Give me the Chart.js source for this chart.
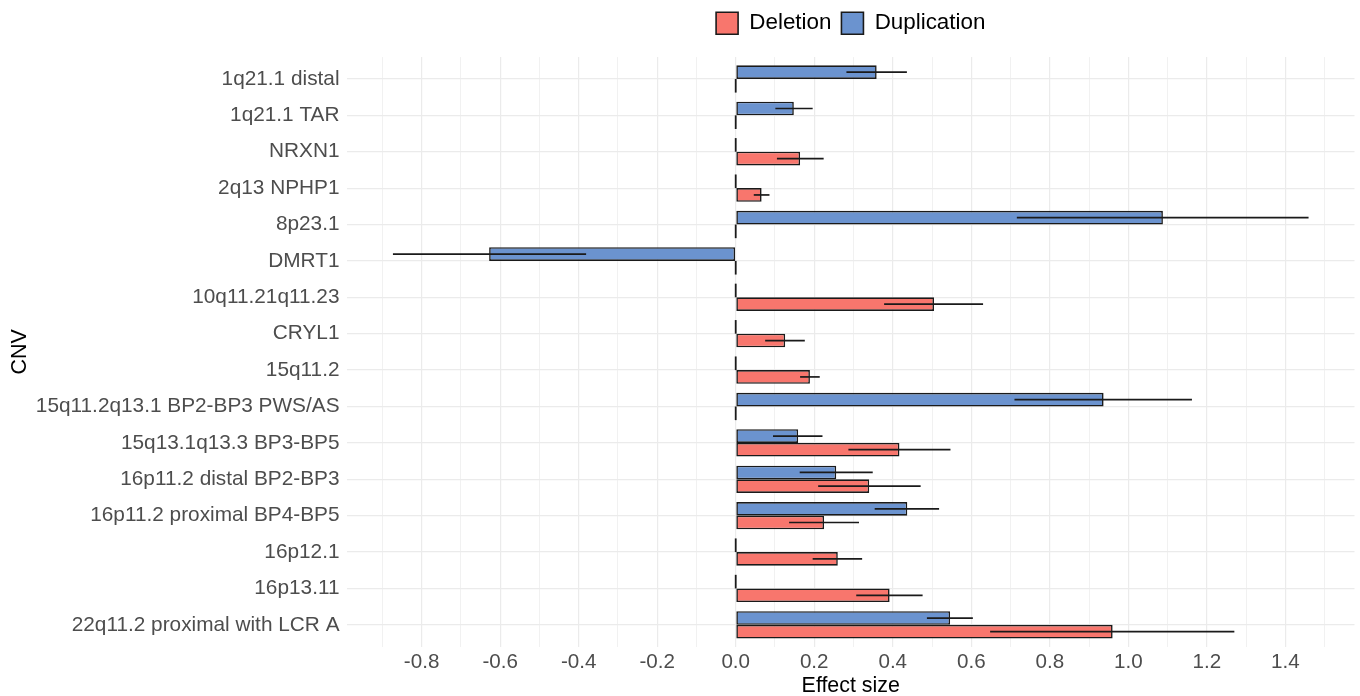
<!DOCTYPE html>
<html>
<head>
<meta charset="utf-8">
<title>CNV effect sizes</title>
<script src="https://cdn.jsdelivr.net/npm/chart.js@4/dist/chart.umd.min.js"></script>
<style>
  html, body { margin: 0; padding: 0; background: #ffffff; }
  #wrap { position: relative; width: 1360px; height: 696px; }
</style>
</head>
<body>
<div id="wrap"><canvas id="chart"></canvas></div>
<script>
// Copy number variants, top to bottom
const cnvs = [
  '1q21.1 distal', '1q21.1 TAR', 'NRXN1', '2q13 NPHP1', '8p23.1', 'DMRT1',
  '10q11.21q11.23', 'CRYL1', '15q11.2', '15q11.2q13.1 BP2-BP3 PWS/AS',
  '15q13.1q13.3 BP3-BP5', '16p11.2 distal BP2-BP3', '16p11.2 proximal BP4-BP5',
  '16p12.1', '16p13.11', '22q11.2 proximal with LCR A'
];

// Effect sizes (0 = not estimated) with lower / upper interval bounds
const deletionEffect = [0, 0, 0.164, 0.066, 0, 0, 0.505, 0.126, 0.189, 0, 0.417, 0.340, 0.225, 0.260, 0.392, 0.960];
const deletionLow    = [null, null, 0.105, 0.046, null, null, 0.378, 0.075, 0.164, null, 0.287, 0.210, 0.136, 0.196, 0.307, 0.648];
const deletionHigh   = [null, null, 0.224, 0.086, null, null, 0.630, 0.176, 0.214, null, 0.547, 0.471, 0.314, 0.322, 0.476, 1.270];

const duplicationEffect = [0.359, 0.148, 0, 0, 1.088, -0.628, 0, 0, 0, 0.937, 0.159, 0.256, 0.437, 0, 0, 0.546];
const duplicationLow    = [0.282, 0.101, null, null, 0.716, -0.873, null, null, null, 0.710, 0.095, 0.163, 0.354, null, null, 0.487];
const duplicationHigh   = [0.436, 0.196, null, null, 1.459, -0.381, null, null, null, 1.162, 0.221, 0.349, 0.518, null, null, 0.604];

// Effect-size ticks in tenths; only even tenths carry a label
const xTickTenths = [-9, -8, -7, -6, -5, -4, -3, -2, -1, 0, 1, 2, 3, 4, 5, 6, 7, 8, 9, 10, 11, 12, 13, 14, 15];

const FONT = '"Liberation Sans", Arial, Helvetica, sans-serif';
const GRID = '#EBEBEB';
const OUTLINE = '#1a1a1a';

Chart.defaults.font.family = FONT;
Chart.defaults.color = '#4D4D4D';

const toPoints = (vals) => vals.map((v, i) => ({ x: v, y: i }));

// Horizontal interval lines through the middle of each bar
const intervalLines = {
  id: 'intervalLines',
  afterDatasetsDraw(chart) {
    const { ctx } = chart;
    const xs = chart.scales.x;
    chart.data.datasets.forEach((ds, di) => {
      const meta = chart.getDatasetMeta(di);
      meta.data.forEach((bar, i) => {
        const lo = ds.low[i], hi = ds.high[i];
        if (lo == null || hi == null) return;
        const { y } = bar.getProps(['y'], true);
        ctx.save();
        ctx.strokeStyle = OUTLINE;
        ctx.lineWidth = 1.7;
        ctx.beginPath();
        ctx.moveTo(xs.getPixelForValue(lo), y);
        ctx.lineTo(xs.getPixelForValue(hi), y);
        ctx.stroke();
        ctx.restore();
      });
    });
  }
};

// Zero-length bars still show their outline as a short vertical stroke
const zeroBars = {
  id: 'zeroBars',
  afterDatasetsDraw(chart) {
    const { ctx } = chart;
    const xs = chart.scales.x;
    chart.data.datasets.forEach((ds, di) => {
      const meta = chart.getDatasetMeta(di);
      meta.data.forEach((bar, i) => {
        if (ds.data[i].x !== 0) return;
        const { y, height } = bar.getProps(['y', 'height'], true);
        const x0 = xs.getPixelForValue(0);
        ctx.save();
        ctx.strokeStyle = OUTLINE;
        ctx.lineWidth = 1.8;
        ctx.beginPath();
        ctx.moveTo(x0, y - height / 2);
        ctx.lineTo(x0, y + height / 2);
        ctx.stroke();
        ctx.restore();
      });
    });
  }
};

// Extra space between the legend row and the plotting panel
const legendGap = {
  id: 'legendGap',
  beforeInit(chart) {
    const fit = chart.legend.fit;
    chart.legend.fit = function () {
      fit.call(this);
      this.height += 12.7;
    };
  }
};

new Chart(document.getElementById('chart'), {
  type: 'bar',
  data: {
    datasets: [
      {
        label: 'Duplication',
        data: toPoints(duplicationEffect),
        low: duplicationLow,
        high: duplicationHigh,
        backgroundColor: '#6B93CF',
        borderColor: OUTLINE,
        borderWidth: 1.6,
        borderSkipped: false
      },
      {
        label: 'Deletion',
        data: toPoints(deletionEffect),
        low: deletionLow,
        high: deletionHigh,
        backgroundColor: '#F8766D',
        borderColor: OUTLINE,
        borderWidth: 1.6,
        borderSkipped: false
      }
    ]
  },
  plugins: [legendGap, zeroBars, intervalLines],
  options: {
    indexAxis: 'y',
    responsive: true,
    maintainAspectRatio: false,
    animation: false,
    events: [],
    layout: { padding: { left: 0, right: 5.5, top: 2, bottom: 0 } },
    datasets: {
      bar: { categoryPercentage: 0.75, barPercentage: 1.0 }
    },
    plugins: {
      tooltip: { enabled: false },
      legend: {
        position: 'top',
        align: 'center',
        fullSize: false,
        reverse: true,
        labels: {
          boxWidth: 22,
          boxHeight: 22,
          padding: 10,
          color: '#000000',
          font: { size: 22.4, family: FONT }
        }
      }
    },
    scales: {
      x: {
        type: 'linear',
        position: 'bottom',
        min: -0.99,
        max: 1.576,
        afterBuildTicks(axis) {
          axis.ticks = xTickTenths.map(t => ({ value: t / 10 }));
        },
        afterFit(axis) { axis.height = 49.3; },
        border: { display: false },
        grid: {
          color: GRID,
          drawTicks: false,
          lineWidth: (c) => (c.tick && Math.round(c.tick.value * 10) % 2 === 0 ? 1.2 : 0.7)
        },
        ticks: {
          autoSkip: false,
          maxRotation: 0,
          padding: 3,
          color: '#4D4D4D',
          font: { size: 20.6, family: FONT },
          callback: (v) => (Math.round(v * 10) % 2 === 0 ? v.toFixed(1) : '')
        },
        title: {
          display: true,
          text: 'Effect size',
          color: '#000000',
          padding: { top: 0, bottom: 0 },
          font: { size: 21.4, family: FONT, lineHeight: 0.9 }
        }
      },
      y: {
        type: 'linear',
        reverse: true,
        offset: false,
        min: -0.6,
        max: cnvs.length - 1 + 0.6,
        afterBuildTicks(axis) {
          axis.ticks = cnvs.map((_, i) => ({ value: i }));
        },
        afterFit(axis) { axis.width = 347; },
        border: { display: false },
        grid: { color: GRID, lineWidth: 1.2, drawTicks: false, offset: false },
        ticks: {
          autoSkip: false,
          padding: 7.5,
          color: '#4D4D4D',
          font: { size: 20.8, family: FONT },
          callback: (v) => cnvs[v]
        },
        title: {
          display: true,
          text: 'CNV',
          color: '#000000',
          padding: { top: 7, bottom: 0 },
          font: { size: 21.4, family: FONT }
        }
      }
    }
  }
});
</script>
</body>
</html>
